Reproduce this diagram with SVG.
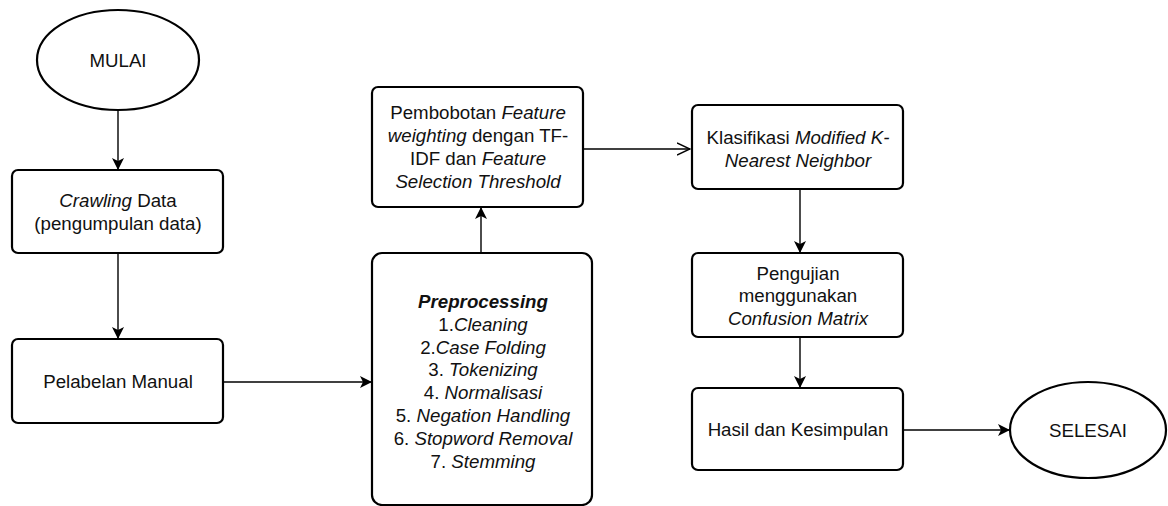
<svg xmlns="http://www.w3.org/2000/svg" width="1168" height="506" viewBox="0 0 1168 506">
<style>
.n{fill:#fff;stroke:#000;stroke-width:2.2}
.t{font-family:"Liberation Sans",Arial,sans-serif;font-size:18.7px;fill:#111;text-anchor:middle}
.i{font-style:italic}
.c{fill:none;stroke:#000;stroke-width:1.4}
</style>
<defs>
<marker id="a" viewBox="0 0 12 12" refX="11" refY="6" markerWidth="12" markerHeight="12" markerUnits="userSpaceOnUse" orient="auto">
<path d="M0,0 L12,6 L0,12 L3,6 Z" fill="#000"/>
</marker>
<marker id="o" viewBox="0 0 14 14" refX="13" refY="7" markerWidth="14" markerHeight="14" markerUnits="userSpaceOnUse" orient="auto">
<path d="M0,1 L13,7 L0,13" fill="none" stroke="#000" stroke-width="1.4"/>
</marker>
</defs>
<rect width="1168" height="506" fill="#fff"/>
<g id="connectors">
<path class="c" d="M118,110 V169" marker-end="url(#a)"/>
<path class="c" d="M118,253 V338" marker-end="url(#a)"/>
<path class="c" d="M223,382 H371" marker-end="url(#a)"/>
<path class="c" d="M481,253 V208" marker-end="url(#a)"/>
<path class="c" d="M583,149 H690" marker-end="url(#o)"/>
<path class="c" d="M800,189 V252" marker-end="url(#a)"/>
<path class="c" d="M800,337 V387" marker-end="url(#a)"/>
<path class="c" d="M903,430 H1009" marker-end="url(#a)"/>
</g>
<g id="mulai">
<ellipse class="n" cx="118" cy="60" rx="81" ry="50"/>
<text class="t" x="118" y="67">MULAI</text>
</g>
<g id="crawling">
<rect class="n" x="12" y="170" width="211" height="83" rx="6"/>
<text class="t" x="118" y="207"><tspan class="i">Crawling</tspan> Data</text>
<text class="t" x="118" y="230">(pengumpulan data)</text>
</g>
<g id="pelabelan">
<rect class="n" x="12" y="339" width="211" height="84" rx="6"/>
<text class="t" x="118" y="388">Pelabelan Manual</text>
</g>
<g id="preprocessing">
<rect class="n" x="372" y="253" width="220" height="252" rx="10"/>
<text class="t" x="483" y="308" font-weight="bold" font-style="italic">Preprocessing</text>
<text class="t" x="483" y="331">1.<tspan class="i">Cleaning</tspan></text>
<text class="t" x="483" y="354">2.<tspan class="i">Case Folding</tspan></text>
<text class="t" x="483" y="376">3. <tspan class="i">Tokenizing</tspan></text>
<text class="t" x="483" y="399">4. <tspan class="i">Normalisasi</tspan></text>
<text class="t" x="483" y="422">5. <tspan class="i">Negation Handling</tspan></text>
<text class="t" x="483" y="445">6. <tspan class="i">Stopword Removal</tspan></text>
<text class="t" x="483" y="468">7. <tspan class="i">Stemming</tspan></text>
</g>
<g id="pembobotan">
<rect class="n" x="372" y="87" width="211" height="120" rx="6"/>
<text class="t" x="478" y="119">Pembobotan <tspan class="i">Feature</tspan></text>
<text class="t" x="478" y="142"><tspan class="i">weighting</tspan> dengan TF-</text>
<text class="t" x="478" y="165">IDF dan <tspan class="i">Feature</tspan></text>
<text class="t" x="478" y="188" font-style="italic">Selection Threshold</text>
</g>
<g id="klasifikasi">
<rect class="n" x="692" y="105" width="211" height="84" rx="6"/>
<text class="t" x="798" y="144">Klasifikasi <tspan class="i">Modified K-</tspan></text>
<text class="t" x="798" y="167" font-style="italic">Nearest Neighbor</text>
</g>
<g id="pengujian">
<rect class="n" x="692" y="253" width="211" height="84" rx="6"/>
<text class="t" x="798" y="280">Pengujian</text>
<text class="t" x="798" y="302">menggunakan</text>
<text class="t" x="798" y="325" font-style="italic">Confusion Matrix</text>
</g>
<g id="hasil">
<rect class="n" x="692" y="388" width="211" height="82" rx="6"/>
<text class="t" x="798" y="436">Hasil dan Kesimpulan</text>
</g>
<g id="selesai">
<ellipse class="n" cx="1088" cy="430" rx="78" ry="48"/>
<text class="t" x="1088" y="437">SELESAI</text>
</g>
</svg>
